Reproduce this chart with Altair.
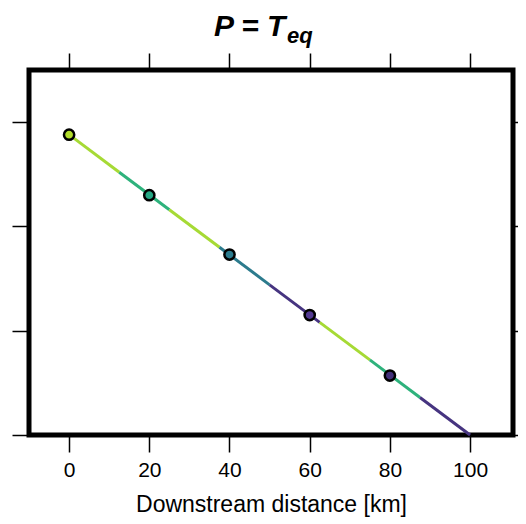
import altair as alt
import pandas as pd

# river profile break points (km, elevation units) and segment colours
break_x = [0, 12.5, 25, 37.5, 50, 62.5, 75, 87.5, 100]
break_z = [2.88, 2.52, 2.16, 1.80, 1.44, 1.08, 0.72, 0.36, 0.0]
seg_colors = ["#a6da35", "#2eb27c", "#a6da35", "#2c7b8d",
              "#463480", "#a6da35", "#2eb27c", "#463480"]

# sample points
pt_x = [0, 20, 40, 60, 80]
pt_z = [2.88, 2.30, 1.73, 1.15, 0.57]
pt_colors = ["#b2dd2c", "#25a784", "#2b7b8e", "#533a92", "#42307a"]

x_ticks = [0, 20, 40, 60, 80, 100]
y_ticks = [0, 1, 2, 3]

segs = pd.DataFrame({
    "x": break_x[:-1], "x2": break_x[1:],
    "z": break_z[:-1], "z2": break_z[1:],
    "c": seg_colors,
})
pts = pd.DataFrame({"x": pt_x, "z": pt_z, "c": pt_colors})

FONT = "Liberation Sans"
xs = alt.Scale(domain=[-10, 110.7], nice=False, zero=False)
ys = alt.Scale(domain=[0, 3.5], nice=False, zero=False)

common = dict(grid=False, domain=False, ticks=True, tickSize=17,
              tickWidth=1.5, tickColor="black")

seg = alt.Chart(segs).mark_rule(strokeWidth=3, strokeCap="butt").encode(
    x=alt.X("x:Q", scale=xs, axis=alt.Axis(
        orient="bottom", values=x_ticks, title="Downstream distance [km]",
        labelFontSize=21, labelPadding=7, labelFont=FONT, labelColor="black",
        titleFontSize=23, titlePadding=13, titleFont=FONT, titleColor="black",
        titleFontWeight="normal", **common)),
    x2="x2:Q",
    y=alt.Y("z:Q", scale=ys, title=None, axis=alt.Axis(
        orient="left", values=y_ticks, labels=False, **common)),
    y2="z2:Q",
    color=alt.Color("c:N", scale=None),
)

points = alt.Chart(pts).mark_circle(size=105, stroke="black", strokeWidth=2.5, opacity=1).encode(
    x=alt.X("x:Q", scale=xs, axis=alt.Axis(orient="top", values=x_ticks, labels=False, title=None, **common)),
    y=alt.Y("z:Q", scale=ys, axis=alt.Axis(orient="right", values=y_ticks, labels=False, title=None, **common)),
    fill=alt.Fill("c:N", scale=None),
)

title_main = alt.Chart(pd.DataFrame({"t": ["P = T"]})).mark_text(
    font=FONT, fontSize=30, fontStyle="italic", fontWeight="bold",
    align="left", baseline="alphabetic", color="black",
).encode(x=alt.value(185), y=alt.value(-34), text="t:N")

title_sub = alt.Chart(pd.DataFrame({"t": ["eq"]})).mark_text(
    font=FONT, fontSize=22, fontStyle="italic", fontWeight="bold",
    align="left", baseline="alphabetic", color="black",
).encode(x=alt.value(258), y=alt.value(-27), text="t:N")

chart = alt.layer(seg, points, title_main, title_sub).resolve_axis(
    x="independent", y="independent"
).properties(
    width=484, height=365,
    autosize=alt.AutoSizeParams(type="none"),
    padding={"left": 21, "top": 62, "right": 5, "bottom": 85},
).configure_view(stroke="black", strokeWidth=5, fill="white")

chart.save("out.html", embed_options={"renderer": "svg", "actions": False})
